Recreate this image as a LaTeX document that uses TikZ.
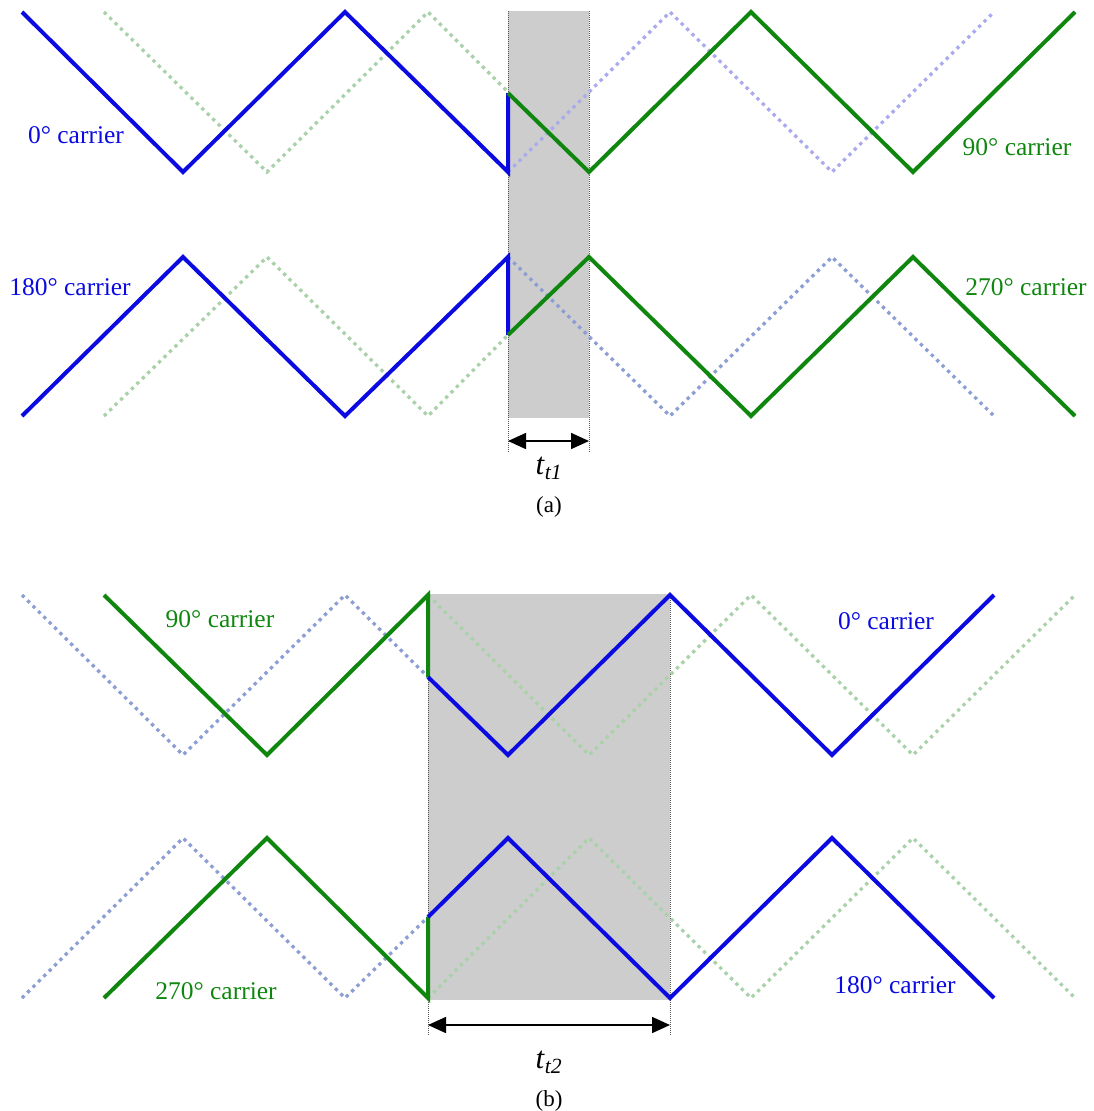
\documentclass[tikz,border=0pt]{standalone}
\usepackage{fontspec}
\setmainfont{Liberation Serif}
\usetikzlibrary{arrows.meta}
\definecolor{cblue}{RGB}{10,10,225}
\definecolor{cgreen}{RGB}{15,135,15}
\definecolor{fblueA}{RGB}{170,170,238}
\definecolor{fblueB}{RGB}{140,158,212}
\definecolor{fgreen}{RGB}{170,210,170}
\definecolor{boxgray}{RGB}{205,205,205}
\tikzset{
  solidblue/.style={draw=cblue,line width=4pt},
  solidgreen/.style={draw=cgreen,line width=4pt},
  dotline/.style={line width=3.3pt,dash pattern=on 3.3pt off 4.3pt},
  fadeblueA/.style={dotline,draw=fblueA},
  fadeblueB/.style={dotline,draw=fblueB},
  fadegreen/.style={dotline,draw=fgreen},
  graybox/.style={fill=boxgray,draw=none},
  guide/.style={draw=gray!70!black,line width=0.8pt,dash pattern=on 1pt off 1pt},
  dimarrow/.style={draw=black,line width=1.6pt,{Triangle[length=18pt,width=16pt]}-{Triangle[length=18pt,width=16pt]}},
  lbl/.style={font=\fontsize{25.5}{29}\selectfont,anchor=base,inner sep=0pt},
  tlbl/.style={font=\fontsize{31}{35}\selectfont,anchor=base,inner sep=0pt},
  caplbl/.style={font=\fontsize{23}{27}\selectfont,anchor=base,inner sep=0pt}
}
\begin{document}
\begin{tikzpicture}[x=1pt,y=-1pt]
\useasboundingbox (0,0) rectangle (1094,1111);
% ---------- (a) ----------
\fill[graybox] (508,11) rectangle (589,418);
\coordinate (a1t) at (508,11); \coordinate (a1b) at (508,452);
\coordinate (a2t) at (589,11); \coordinate (a2b) at (589,452);
\draw[guide] (a1t) -- (a1b);
\draw[guide] (a2t) -- (a2b);
% faded
\draw[fadegreen] (104,12)--(267,172)--(428,12)--(508,92);
\draw[fadeblueA] (508,172)--(670,12)--(832,172)--(994,12);
\draw[fadegreen] (104,416)--(267,257)--(428,416)--(508,335);
\draw[fadeblueB] (508,257)--(670,416)--(832,257)--(994,416);
% solid
\draw[solidblue] (22,12)--(183,172)--(345,12)--(508,172)--(508,93);
\draw[solidgreen] (508,93)--(589,172)--(751,12)--(913,172)--(1075,12);
\draw[solidblue] (22,416)--(183,257)--(345,416)--(508,257)--(508,335);
\draw[solidgreen] (508,335)--(589,257)--(751,416)--(913,257)--(1075,416);
% dimension
\coordinate (da1) at (508,441); \coordinate (da2) at (589,441);
\draw[dimarrow] (da1) -- (da2);
\node[tlbl] (tt1) at (549,474) {\textit{t}\textsubscript{\textit{t1}}};
\node[caplbl] (capa) at (549,512) {(a)};
% labels
\node[lbl,text=cblue] (l0a) at (76,143) {0° carrier};
\node[lbl,text=cgreen] (l90a) at (1017,155) {90° carrier};
\node[lbl,text=cblue] (l180a) at (70,295) {180° carrier};
\node[lbl,text=cgreen] (l270a) at (1026,295) {270° carrier};
% ---------- (b) ----------
\fill[graybox] (428,594) rectangle (670,1000);
\coordinate (b1t) at (428,594); \coordinate (b1b) at (428,1036);
\coordinate (b2t) at (670,594); \coordinate (b2b) at (670,1036);
\draw[guide] (b1t) -- (b1b);
\draw[guide] (b2t) -- (b2b);
% faded
\draw[fadeblueB] (22,595)--(183,755)--(345,595)--(428,677);
\draw[fadegreen] (428,595)--(589,755)--(751,595)--(913,755)--(1075,595);
\draw[fadeblueB] (22,998)--(183,838)--(345,998)--(428,917);
\draw[fadegreen] (428,998)--(589,838)--(751,998)--(913,838)--(1075,998);
% solid
\draw[solidgreen] (104,595)--(267,755)--(428,595)--(428,677);
\draw[solidblue] (428,677)--(508,755)--(670,595)--(832,755)--(994,595);
\draw[solidgreen] (104,998)--(267,838)--(428,998)--(428,917);
\draw[solidblue] (428,917)--(508,838)--(670,998)--(832,838)--(994,998);
% dimension
\coordinate (db1) at (428,1025); \coordinate (db2) at (670,1025);
\draw[dimarrow] (db1) -- (db2);
\node[tlbl] (tt2) at (549,1068) {\textit{t}\textsubscript{\textit{t2}}};
\node[caplbl] (capb) at (549,1106) {(b)};
% labels
\node[lbl,text=cgreen] (l90b) at (220,627) {90° carrier};
\node[lbl,text=cblue] (l0b) at (886,629) {0° carrier};
\node[lbl,text=cgreen] (l270b) at (216,999) {270° carrier};
\node[lbl,text=cblue] (l180b) at (895,993) {180° carrier};
\end{tikzpicture}
\end{document}
